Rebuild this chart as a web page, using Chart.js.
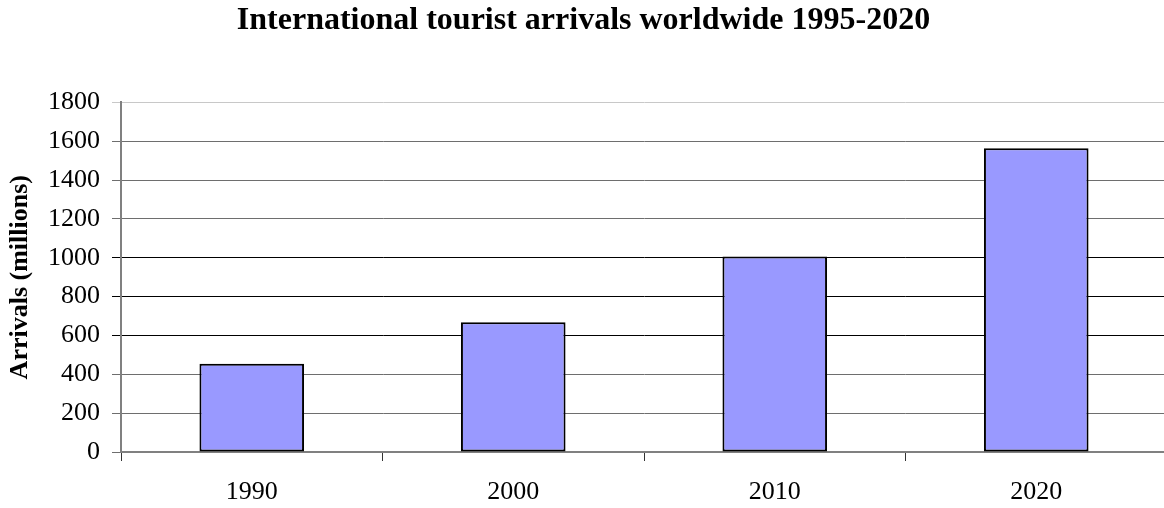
<!DOCTYPE html>
<html>
<head>
<meta charset="utf-8">
<script src="https://cdn.jsdelivr.net/npm/chart.js@4/dist/chart.umd.min.js"></script>
<style>
  html, body { margin: 0; padding: 0; background: #fff; overflow: hidden; }
  #wrap { width: 1168px; height: 508px; }
</style>
</head>
<body>
<div id="wrap"><canvas id="arrivals"></canvas></div>
<script>
const years = ['1990', '2000', '2010', '2020'];
const arrivals = [455, 668, 1006, 1564];
const yTicks = [0, 200, 400, 600, 800, 1000, 1200, 1400, 1600, 1800];

const serif = '"Liberation Serif", "Times New Roman", serif';

// grid lines come out in slightly different greys
const gridColor = (ctx) => {
  const v = ctx.tick ? ctx.tick.value : 0;
  if (v === 1800) return '#c8c8c8';
  if (v >= 600 && v <= 1000) return '#000000';
  return '#6e6e6e';
};

new Chart(document.getElementById('arrivals'), {
  type: 'bar',
  data: {
    labels: years,
    datasets: [{
      label: 'Arrivals',
      data: arrivals,
      backgroundColor: '#9999ff',
      borderColor: '#000000',
      borderWidth: 2,
      borderSkipped: false,
      barPercentage: 0.4,
      categoryPercentage: 1.0
    }]
  },
  options: {
    responsive: true,
    maintainAspectRatio: false,
    animation: false,
    layout: { padding: { left: 0, right: 1, top: 0, bottom: 0 } },
    plugins: {
      legend: { display: false },
      tooltip: { enabled: false },
      title: {
        display: true,
        text: 'International tourist arrivals worldwide 1995-2020',
        color: '#000',
        font: { family: serif, size: 32, weight: 'bold' },
        padding: { top: 2, bottom: 62 }
      }
    },
    scales: {
      y: {
        min: 0,
        max: 1800,
        afterBuildTicks: (s) => { s.ticks = yTicks.map(v => ({ value: v })); },
        afterFit: (s) => { s.width = 121; },
        border: { display: true, color: '#808080', width: 2 },
        grid: { color: gridColor, lineWidth: 1, drawTicks: true, tickLength: 9 },
        ticks: {
          color: '#000',
          padding: 12,
          font: { family: serif, size: 26 },
          callback: (v) => String(v)
        },
        title: {
          display: true,
          text: 'Arrivals (millions)',
          color: '#000',
          font: { family: serif, size: 26, weight: 'bold' },
          padding: { top: 5, bottom: 0 }
        }
      },
      x: {
        afterFit: (s) => { s.height = 56; },
        border: { display: true, color: '#808080', width: 2 },
        grid: { offset: true, drawOnChartArea: false, drawTicks: true, tickLength: 9, color: '#333' },
        ticks: { color: '#000', padding: 16, font: { family: serif, size: 26 } }
      }
    }
  }
});
</script>
</body>
</html>
